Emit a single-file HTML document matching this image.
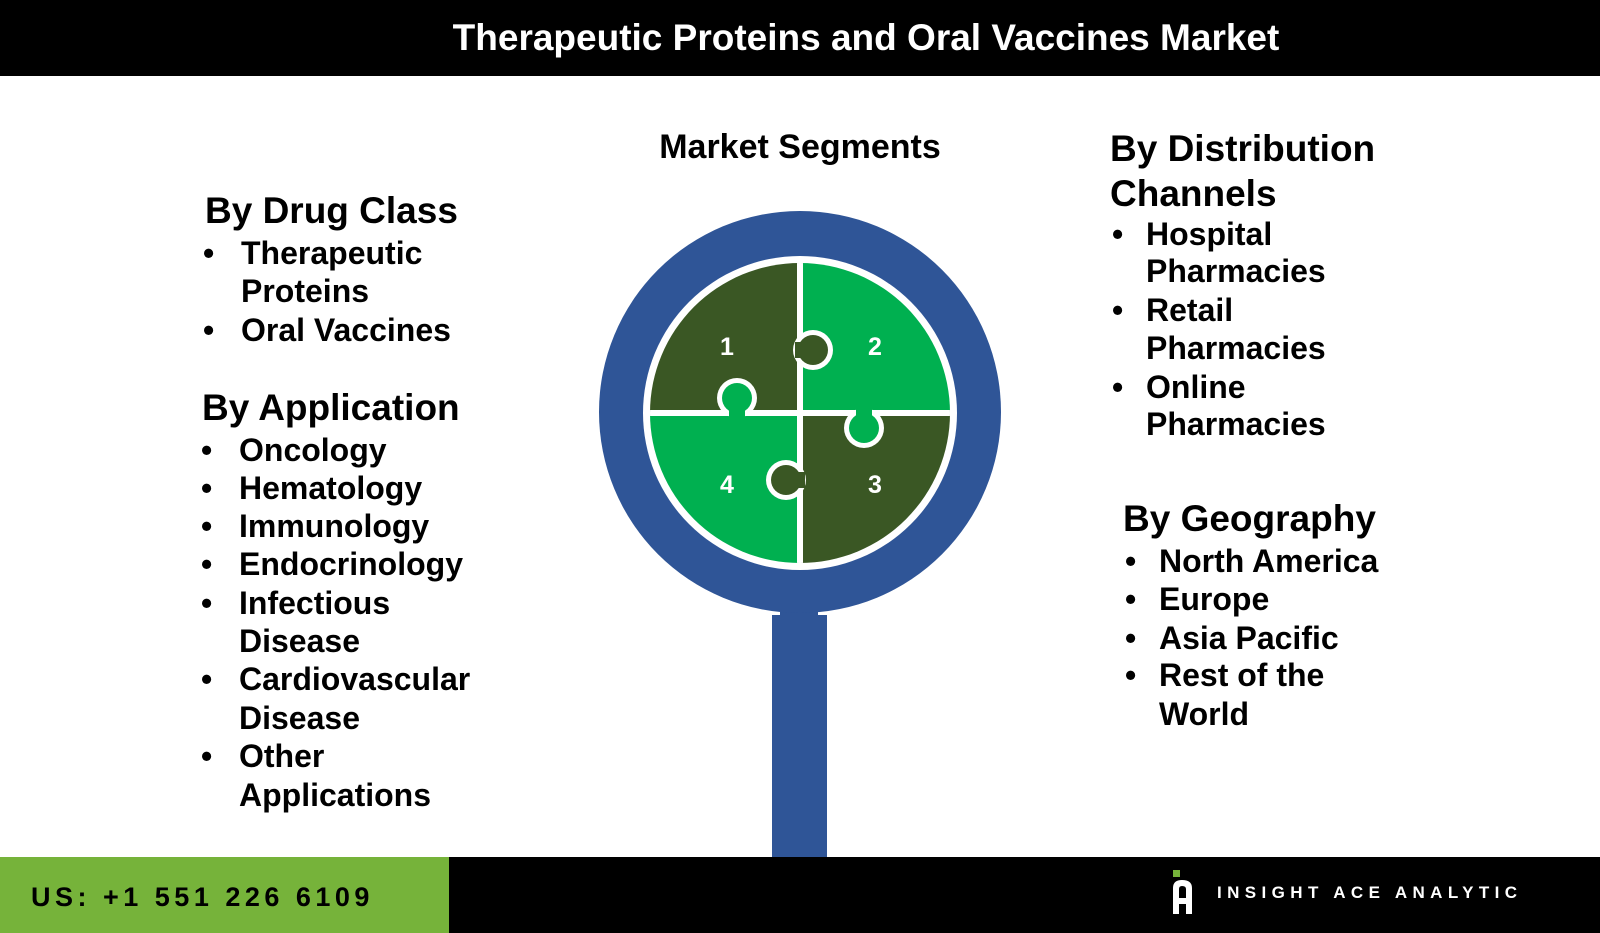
<!DOCTYPE html>
<html><head><meta charset="utf-8"><style>
*{margin:0;padding:0;box-sizing:border-box}
body{width:1600px;height:933px;position:relative;background:#fff;font-family:"Liberation Sans",Arial,sans-serif;overflow:hidden;color:#000}
.t{position:absolute;font-weight:bold;white-space:nowrap}
.h{font-size:37px;line-height:42px}
.i{font-size:32px;line-height:38px}
</style></head><body>
<div style="position:absolute;left:0;top:0;width:1600px;height:76px;background:#000"></div>
<div class="t" style="left:0;width:1732px;top:17px;text-align:center;color:#fff;font-size:37px;line-height:42px">Therapeutic Proteins and Oral Vaccines Market</div>

<div class="t" style="left:500px;width:600px;text-align:center;top:126px;font-size:34px;line-height:42px">Market Segments</div>

<!-- left -->
<div class="t h" style="left:205px;top:190px">By Drug Class</div>
<div class="t i" style="left:203px;top:234px">•</div><div class="t i" style="left:241px;top:234px">Therapeutic</div>
<div class="t i" style="left:241px;top:272px">Proteins</div>
<div class="t i" style="left:203px;top:311px">•</div><div class="t i" style="left:241px;top:311px">Oral Vaccines</div>

<div class="t h" style="left:202px;top:387px">By Application</div>
<div class="t i" style="left:201px;top:431px">•</div><div class="t i" style="left:239px;top:431px">Oncology</div>
<div class="t i" style="left:201px;top:469px">•</div><div class="t i" style="left:239px;top:469px">Hematology</div>
<div class="t i" style="left:201px;top:507px">•</div><div class="t i" style="left:239px;top:507px">Immunology</div>
<div class="t i" style="left:201px;top:545px">•</div><div class="t i" style="left:239px;top:545px">Endocrinology</div>
<div class="t i" style="left:201px;top:584px">•</div><div class="t i" style="left:239px;top:584px">Infectious</div>
<div class="t i" style="left:239px;top:622px">Disease</div>
<div class="t i" style="left:201px;top:660px">•</div><div class="t i" style="left:239px;top:660px">Cardiovascular</div>
<div class="t i" style="left:239px;top:699px">Disease</div>
<div class="t i" style="left:201px;top:737px">•</div><div class="t i" style="left:239px;top:737px">Other</div>
<div class="t i" style="left:239px;top:776px">Applications</div>

<!-- right -->
<div class="t h" style="left:1110px;top:126px;line-height:45px">By Distribution<br>Channels</div>
<div class="t i" style="left:1112px;top:215px">•</div><div class="t i" style="left:1146px;top:215px">Hospital</div>
<div class="t i" style="left:1146px;top:252px">Pharmacies</div>
<div class="t i" style="left:1112px;top:291px">•</div><div class="t i" style="left:1146px;top:291px">Retail</div>
<div class="t i" style="left:1146px;top:329px">Pharmacies</div>
<div class="t i" style="left:1112px;top:368px">•</div><div class="t i" style="left:1146px;top:368px">Online</div>
<div class="t i" style="left:1146px;top:405px">Pharmacies</div>

<div class="t h" style="left:1123px;top:498px">By Geography</div>
<div class="t i" style="left:1125px;top:542px">•</div><div class="t i" style="left:1159px;top:542px">North America</div>
<div class="t i" style="left:1125px;top:580px">•</div><div class="t i" style="left:1159px;top:580px">Europe</div>
<div class="t i" style="left:1125px;top:619px">•</div><div class="t i" style="left:1159px;top:619px">Asia Pacific</div>
<div class="t i" style="left:1125px;top:656px">•</div><div class="t i" style="left:1159px;top:656px">Rest of the</div>
<div class="t i" style="left:1159px;top:695px">World</div>

<svg style="position:absolute;left:0;top:0" width="1600" height="933">
<defs><clipPath id="c"><circle cx="800" cy="413" r="150"/></clipPath></defs>
<rect x="780" y="600" width="38" height="20" fill="#2f5597"/>
<rect x="772" y="615" width="55" height="250" fill="#2f5597"/>
<circle cx="800" cy="412" r="201" fill="#2f5597"/>
<circle cx="800" cy="413" r="157" fill="#fff"/>
<g clip-path="url(#c)">
<rect x="640" y="250" width="160" height="163" fill="#3a5724"/>
<rect x="800" y="250" width="160" height="163" fill="#00b050"/>
<rect x="800" y="413" width="160" height="163" fill="#3a5724"/>
<rect x="640" y="413" width="160" height="163" fill="#00b050"/>
<rect x="797" y="250" width="6" height="330" fill="#fff"/>
<rect x="640" y="410" width="320" height="6" fill="#fff"/>
</g>
<!-- knobs -->
<circle cx="813" cy="350" r="20" fill="#fff"/><circle cx="813" cy="350" r="15" fill="#3a5724"/><rect x="795" y="342" width="16" height="16" fill="#3a5724"/>
<circle cx="737" cy="398" r="20" fill="#fff"/><circle cx="737" cy="398" r="15" fill="#00b050"/><rect x="729" y="400" width="16" height="18" fill="#00b050"/>
<circle cx="864" cy="428" r="20" fill="#fff"/><circle cx="864" cy="428" r="15" fill="#00b050"/><rect x="856" y="408" width="16" height="18" fill="#00b050"/>
<circle cx="786" cy="480" r="20" fill="#fff"/><circle cx="786" cy="480" r="15" fill="#3a5724"/><rect x="789" y="472" width="16" height="16" fill="#3a5724"/>
<g fill="#fff" font-family="Liberation Sans,sans-serif" font-weight="bold" font-size="25" text-anchor="middle">
<text x="727" y="355">1</text><text x="875" y="355">2</text><text x="875" y="493">3</text><text x="727" y="493">4</text>
</g>
</svg>

<div style="position:absolute;left:0;top:857px;width:1600px;height:76px;background:#000"></div>
<div style="position:absolute;left:0;top:857px;width:449px;height:76px;background:#76b33a"></div>
<div class="t" style="left:31px;top:880px;font-size:27px;line-height:34px;letter-spacing:4.5px">US: +1 551 226 6109</div>
<div style="position:absolute;left:1173px;top:870px;width:7px;height:7px;background:#76b33a"></div>
<svg style="position:absolute;left:1172px;top:880px" width="22" height="35"><path d="M1 34 V8 Q1 0 10 0 Q20 0 20 8 V34 H14 V24 H7 V34 Z M7 18 H14 V9 Q14 6 10 6 Q7 6 7 9 Z" fill="#fff"/></svg>
<div class="t" style="left:1217px;top:883px;color:#fff;font-size:17px;line-height:20px;letter-spacing:5.4px">INSIGHT ACE ANALYTIC</div>
</body></html>
